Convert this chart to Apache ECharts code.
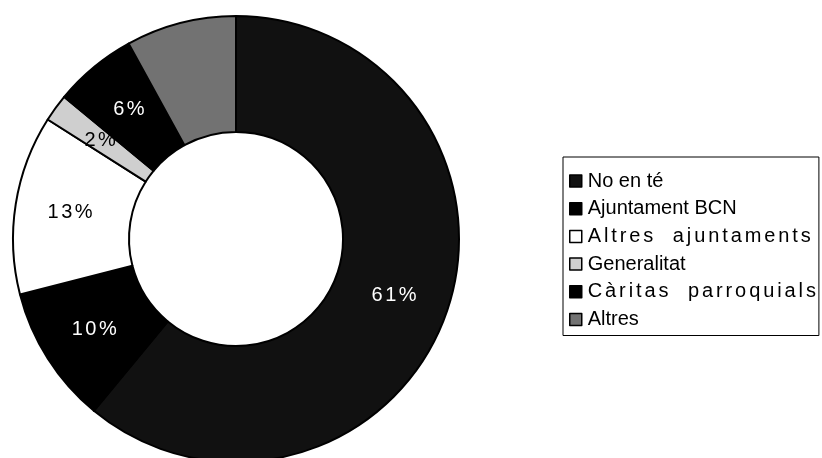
<!DOCTYPE html>
<html>
<head>
<meta charset="utf-8">
<script src="https://cdn.jsdelivr.net/npm/echarts@6/dist/echarts.min.js"></script>
<style>
html,body{margin:0;padding:0;background:#fff;}
#chart{width:822px;height:458px;}
</style>
</head>
<body>
<div id="chart"></div>
<script>
const categories = ['No en té', 'Ajuntament BCN', 'Altres ajuntaments', 'Generalitat', 'Càritas parroquials', 'Altres'];
const values = [61, 10, 13, 2, 6, 8];
const sliceColors = ['#111111', '#000000', '#ffffff', '#cfcfcf', '#000000', '#727272'];
const labelColors = ['#ffffff', '#ffffff', '#000000', '#000000', '#ffffff', '#000000'];
const showLabel = [true, true, true, true, true, false];
const spacedNames = ['Altres ajuntaments', 'Càritas parroquials'];

const FONT = 'Liberation Sans, Arial, sans-serif';

function spaced(text, tag) {
  const chars = text.split('');
  return chars.map((ch, i) => {
    if (ch === ' ') return '{' + tag + 'w| }';
    if (i === chars.length - 1) return '{' + tag + 'e|' + ch + '}';
    return '{' + tag + '|' + ch + '}';
  }).join('');
}

const chart = echarts.init(document.getElementById('chart'));
const data = categories.map((name, i) => ({
  name: name,
  value: values[i],
  itemStyle: { color: sliceColors[i] },
  label: { show: showLabel[i], color: labelColors[i] }
}));

chart.setOption({
  animation: false,
  backgroundColor: '#ffffff',
  legend: {
    orient: 'vertical',
    left: 563,
    top: 157,
    padding: [14, 3, 6, 6],
    itemGap: 7.7,
    itemWidth: 12,
    itemHeight: 12,
    icon: 'rect',
    borderColor: '#000',
    borderWidth: 1,
    formatter: function (name) {
      return spacedNames.indexOf(name) >= 0 ? spaced(name, 'g') : name;
    },
    textStyle: {
      fontFamily: FONT, fontSize: 20, color: '#000', padding: [0, 0, 0, 1],
      rich: {
        g: { fontFamily: FONT, fontSize: 20, color: '#000', padding: [0, 2.9, 0, 0] },
        ge: { fontFamily: FONT, fontSize: 20, color: '#000' },
        gw: { fontFamily: FONT, fontSize: 20, color: '#000', padding: [0, 11, 0, 0] }
      }
    },
    itemStyle: { borderColor: '#000', borderWidth: 1.5 },
    data: categories
  },
  series: [{
    type: 'pie',
    center: [236, 239],
    radius: [107, 223],
    startAngle: 90,
    clockwise: true,
    avoidLabelOverlap: false,
    itemStyle: { borderColor: '#000', borderWidth: 2 },
    label: {
      position: 'inside',
      formatter: function (p) { return spaced(p.value + '%', 'l'); },
      fontFamily: FONT,
      fontSize: 20,
      rich: {
        l: { fontFamily: FONT, fontSize: 20, padding: [0, 2.5, 0, 0] },
        le: { fontFamily: FONT, fontSize: 20 },
        lw: { fontFamily: FONT, fontSize: 20 }
      }
    },
    labelLine: { show: false },
    emphasis: { disabled: true },
    data: data
  }]
});
</script>
</body>
</html>
